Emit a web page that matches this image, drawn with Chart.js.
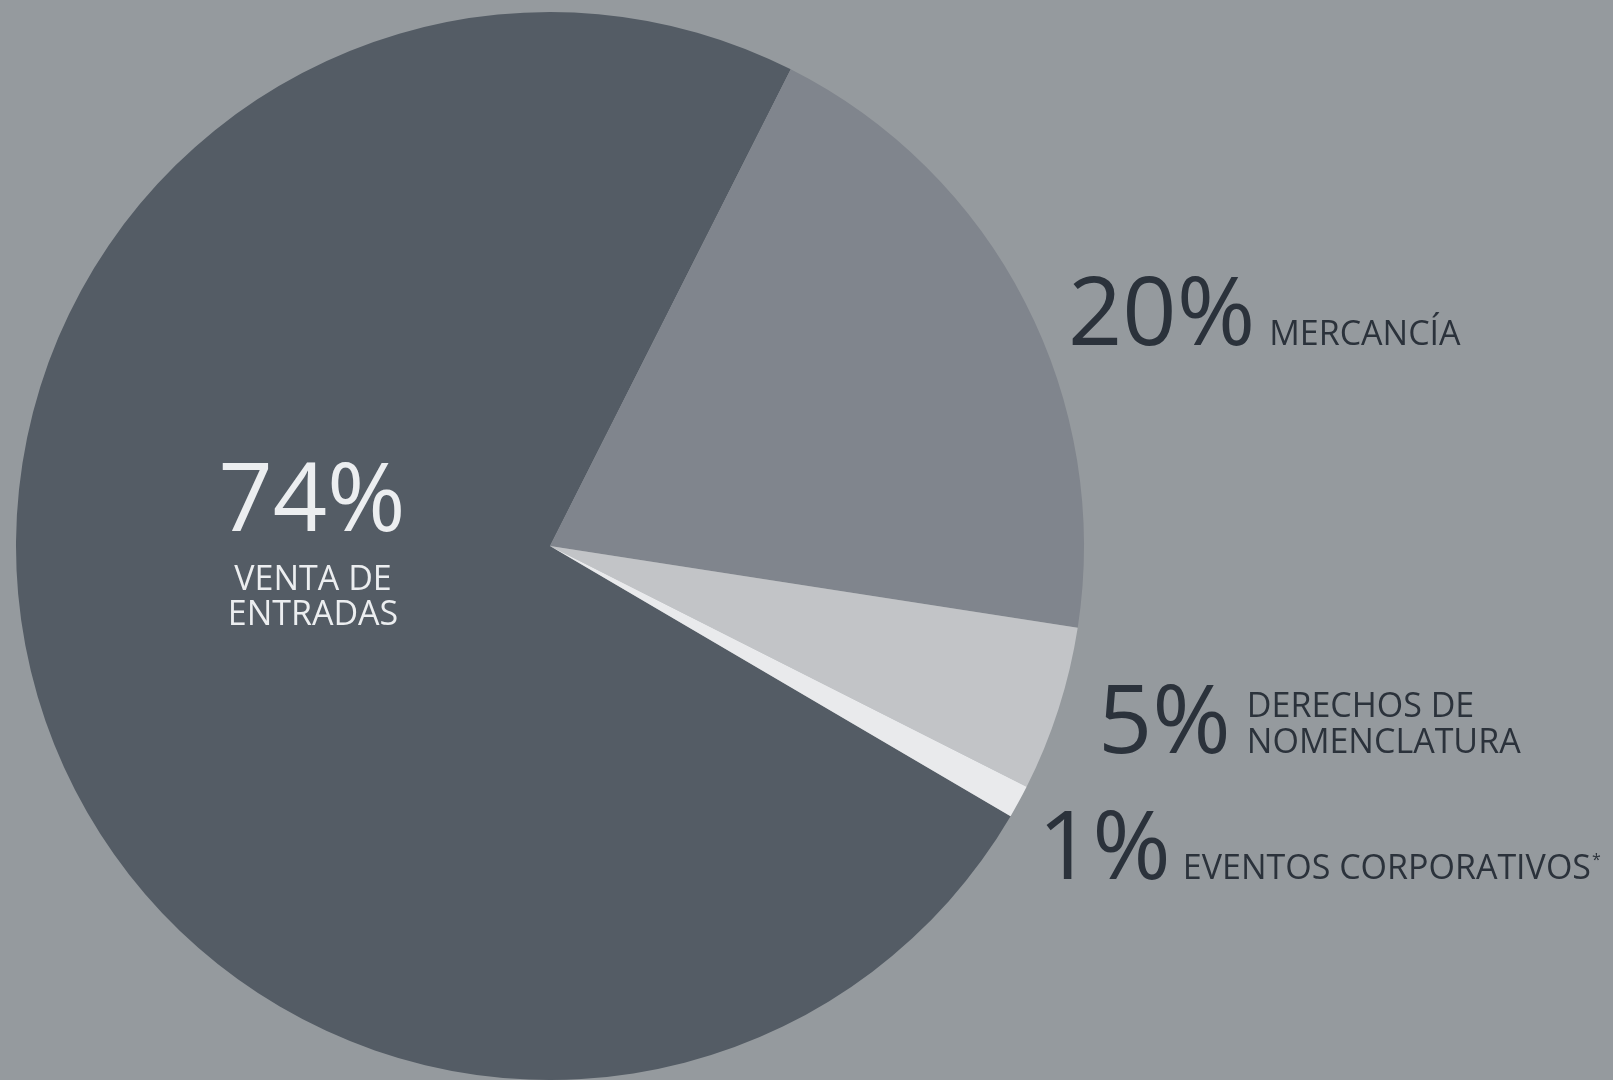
<!DOCTYPE html>
<html>
<head>
<meta charset="utf-8">
<script src="https://cdn.jsdelivr.net/npm/chart.js@4/dist/chart.umd.min.js"></script>
<style>
  html, body { margin: 0; padding: 0; background: #959a9e; overflow: hidden; }
  #wrap { width: 1613px; height: 1080px; }
</style>
</head>
<body>
<div id="wrap"><canvas id="pie"></canvas></div>
<script>
//data
const categories = ['VENTA DE ENTRADAS', 'MERCANCÍA', 'DERECHOS DE NOMENCLATURA', 'EVENTOS CORPORATIVOS'];
const values = [74, 20, 5, 1];
const sliceColors = ['#545c65', '#80858d', '#c2c4c7', '#e9eaec'];
const percentText = ['74%', '20%', '5%', '1%'];
const nameLines = [['VENTA DE', 'ENTRADAS'], ['MERCANCÍA'], ['DERECHOS DE', 'NOMENCLATURA'], ['EVENTOS CORPORATIVOS']];

const FONT = '"Open Sans", "Noto Sans", sans-serif';

//label plugin
const labels = {
    id: 'slice_labels',
    afterDraw: (chart) => {
        const ctx = chart.ctx;
        ctx.save();
        ctx.textBaseline = 'alphabetic';

        // inside label for the big slice
        ctx.fillStyle = '#eceef0';
        ctx.textAlign = 'center';
        ctx.font = '95px ' + FONT;
        ctx.fillText(percentText[0], 312, 531);
        ctx.font = '34px ' + FONT;
        ctx.fillText(nameLines[0][0], 313, 590);
        ctx.fillText(nameLines[0][1], 313, 625);

        // outside labels
        const spots = [null, {x: 1068, y: 345, gap: 14}, {x: 1098, y: 753, gap: 16}, {x: 1038, y: 879, gap: 12}];
        ctx.fillStyle = '#2b323b';
        ctx.textAlign = 'left';
        for (let i = 1; i < values.length; i++) {
            const s = spots[i];
            ctx.font = '95px ' + FONT;
            ctx.fillText(percentText[i], s.x, s.y);
            const w = ctx.measureText(percentText[i]).width;
            ctx.font = '34px ' + FONT;
            const lines = nameLines[i];
            if (i === 3) {
                ctx.fillText(lines[0], s.x + w + s.gap, s.y);
                const tw = ctx.measureText(lines[0]).width;
                ctx.font = '16px ' + FONT;
                ctx.fillText('*', s.x + w + s.gap + tw + 1, s.y - 14);
            } else {
                for (let j = 0; j < lines.length; j++) {
                    ctx.fillText(lines[j], s.x + w + s.gap, s.y - (lines.length - 1 - j) * 36);
                }
            }
        }
        ctx.restore();
    }
};

//config
const config = {
    type: 'pie',
    data: {
        labels: categories,
        datasets: [{
            data: values,
            backgroundColor: sliceColors,
            borderWidth: 0,
            hoverOffset: 0
        }]
    },
    options: {
        responsive: true,
        maintainAspectRatio: false,
        animation: false,
        rotation: 120.4,
        layout: { padding: { left: 15, right: 528, top: 12, bottom: 0 } },
        plugins: {
            legend: { display: false },
            tooltip: { enabled: false }
        }
    },
    plugins: [labels]
};

//render init
const pie = new Chart(document.getElementById('pie'), config);
</script>
</body>
</html>
